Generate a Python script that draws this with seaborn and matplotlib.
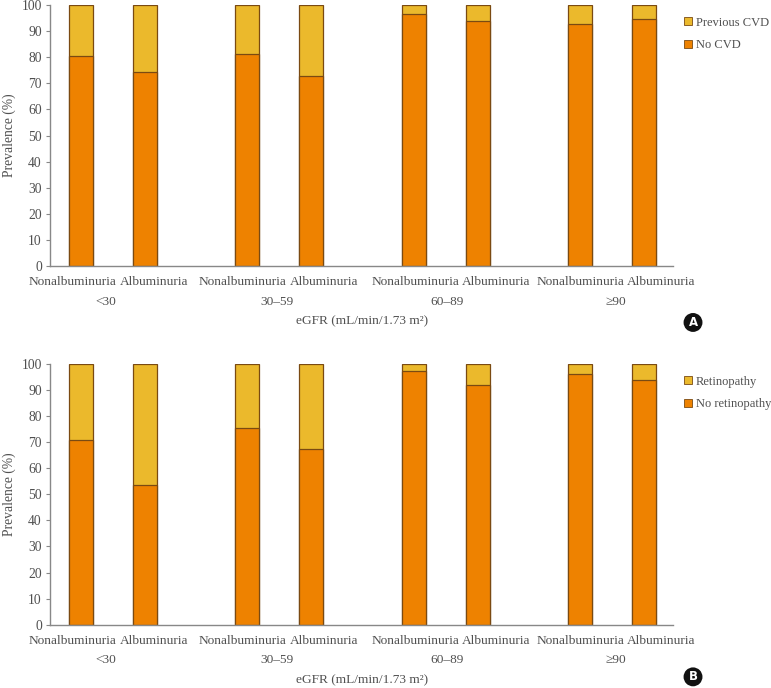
import seaborn as sns
import pandas as pd
import matplotlib.pyplot as plt
from matplotlib.patches import Patch

# data (percent)
groups = ["<30", "30\u201359", "60\u201389", "\u226590"]
members = ["Nonalbuminuria", "Albuminuria"]
no_cvd = [80.3, 74.4, 81.2, 72.7, 96.3, 93.8, 92.7, 94.6]
no_retino = [70.7, 53.6, 75.4, 67.4, 97.2, 91.9, 96.2, 94.0]
totals = [100] * 8

orange = "#EE8200"
yellow = "#EBB92C"
edge = "#7A4A12"
grey = "#505050"

sns.set_style("white")
plt.rcParams["font.family"] = ["Liberation Serif", "DejaVu Serif"]
plt.rcParams["font.size"] = 9.6

# x layout: pairs with a wider gap between eGFR groups
pos = []
for g in range(len(groups)):
    for m in range(len(members)):
        pos.append(g * 2.6 + m)
# label centres (the labels are not centred under the bars in the original)
label_x = [-0.13, 1.14, 2.52, 3.80, 5.23, 6.48, 7.80, 9.06]
group_x = [0.39, 3.06, 5.72, 8.36]


def panel(ax, lower, lower_name, upper_name, letter, letter_y):
    df = pd.DataFrame({"pos": pos, "total": totals, "lower": lower})
    sns.barplot(data=df, x="pos", y="total", native_scale=True, width=0.37,
                color=yellow, saturation=1, edgecolor=edge, linewidth=0.9, ax=ax)
    sns.barplot(data=df, x="pos", y="lower", native_scale=True, width=0.37,
                color=orange, saturation=1, edgecolor=edge, linewidth=0.9, ax=ax)
    ax.set_xlim(-0.48, 9.25)
    ax.set_ylim(0, 100)
    ax.set_yticks(range(0, 101, 10))
    ax.set_xticks([])
    ax.tick_params(axis="y", length=3, width=0.8, color="#888888", colors=grey,
                   left=True, pad=3, labelsize=9.8)
    sns.despine(ax=ax)
    for s in ["left", "bottom"]:
        ax.spines[s].set_color("#888888")
        ax.spines[s].set_linewidth(1.0)
    ax.set_xlabel("")
    ax.set_ylabel("Prevalence (%)", color=grey, labelpad=4, fontsize=9.8)
    tr = ax.get_xaxis_transform()
    for x, name in zip(label_x, members * len(groups)):
        ax.text(x, -0.062, name, transform=tr, ha="center", va="center", color=grey)
    for x, name in zip(group_x, groups):
        ax.text(x, -0.136, name, transform=tr, ha="center", va="center", color=grey)
    ax.text(0.5, -0.212, "eGFR (mL/min/1.73 m\u00b2)", transform=ax.transAxes,
            ha="center", va="center", color=grey)
    handles = [Patch(facecolor=yellow, edgecolor=edge, linewidth=0.6, label=upper_name),
               Patch(facecolor=orange, edgecolor=edge, linewidth=0.6, label=lower_name)]
    leg = ax.legend(handles=handles, loc="upper left", bbox_to_anchor=(1.018, 0.955),
                    frameon=False, handlelength=0.65, handleheight=0.65, fontsize=9.0,
                    handletextpad=0.25, labelspacing=0.85, borderaxespad=0, borderpad=0)
    for t in leg.get_texts():
        t.set_color(grey)
    ax.text(1.032, letter_y, letter, transform=ax.transAxes, ha="center", va="center",
            color="white", fontsize=8.5, fontweight="bold", family="DejaVu Sans",
            bbox=dict(boxstyle="circle,pad=0.25", facecolor="#111111", edgecolor="none"))


fig = plt.figure(figsize=(7.71, 6.88), dpi=100)
ax1 = fig.add_axes([0.065, 0.613, 0.808, 0.38])
ax2 = fig.add_axes([0.065, 0.092, 0.808, 0.379])

panel(ax1, no_cvd, "No CVD", "Previous CVD", "A", -0.215)
panel(ax2, no_retino, "No retinopathy", "Retinopathy", "B", -0.2)

fig.savefig("out.png", dpi=100)
